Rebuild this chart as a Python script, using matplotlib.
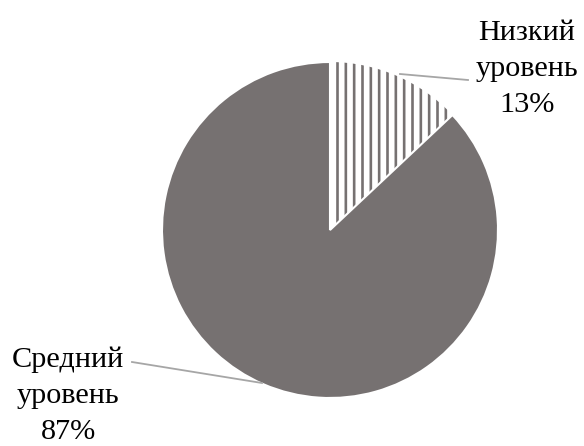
import matplotlib
matplotlib.use("Agg")
import matplotlib.pyplot as plt

# Distribution of levels
labels = ["Низкий\nуровень", "Средний\nуровень"]
values = [13, 87]

plt.rcParams["font.family"] = ["Liberation Serif", "DejaVu Serif"]
plt.rcParams["hatch.linewidth"] = 1.9

W, H = 584, 446
fig = plt.figure(figsize=(W / 100, H / 100), dpi=100)
ax = fig.add_axes([0, 0, 1, 1])

gray = "#767171"
cx, cy, r = 330, H - 230, 168

wedges, _ = ax.pie(values, startangle=90, counterclock=False,
                   center=(cx, cy), radius=r, frame=True,
                   colors=["white", gray],
                   wedgeprops=dict(edgecolor="white", linewidth=1.5))
ax.axis("off")
ax.set_xlim(0, W)
ax.set_ylim(0, H)
ax.set_aspect("equal")

low = wedges[0]
low.set_hatch("||")
low.set_edgecolor(gray)
low.set_linewidth(0)
low.set_zorder(1)
wedges[1].set_zorder(2)

tot = sum(values)
txt = dict(ha="center", va="baseline", linespacing=1.5,
           fontfamily="Liberation Serif", fontsize=21.8, color="black")

# Label texts (anchored at the baseline of the last line)
ax.text(527, H - 112, f"{labels[0]}\n{values[0] * 100 // tot}%", **txt)
ax.text(68, H - 439, f"{labels[1]}\n{values[1] * 100 // tot}%", **txt)

# Leader lines
lc = "#a6a6a6"
ax.plot([400, 468], [H - 74, H - 80], color=lc, lw=1.3, zorder=3)
ax.plot([132, 262], [H - 362, H - 383], color=lc, lw=1.3, zorder=3)

fig.savefig("out.png", dpi=100, facecolor="white")
